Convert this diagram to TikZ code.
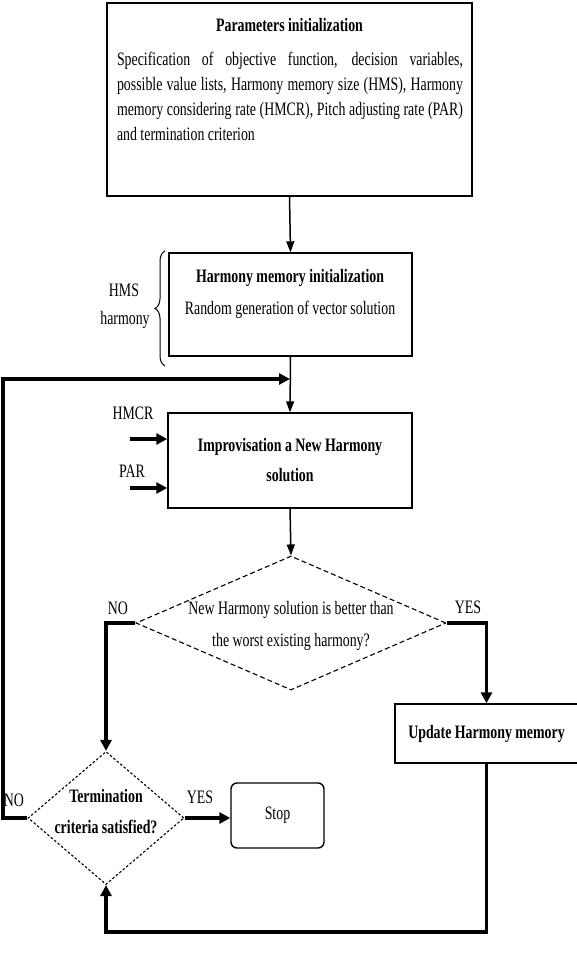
\documentclass[tikz,border=0pt]{standalone}
\usepackage{fontspec}
\setmainfont{Liberation Serif}[FakeStretch=0.73]
\usetikzlibrary{shapes.geometric,arrows.meta,decorations.pathreplacing}
\begin{document}
\begin{tikzpicture}[x=1pt,y=-1pt,
  every node/.style={font=\fontsize{19}{25}\selectfont, inner sep=0pt},
  box/.style={draw, line width=1.4pt},
  dia/.style={diamond, draw, line width=1.1pt, inner sep=0pt},
  conn/.style={line width=1.5pt, -{Triangle[length=11pt,width=8pt]}},
  heavy/.style={line width=3.5pt, line join=miter},
  heavyarrow/.style={heavy, -{Triangle[length=11pt,width=11pt]}}
]
\useasboundingbox (0,0) rectangle (576,968);

% Parameters box
\node[box, minimum width=365pt, minimum height=193pt] (params) at (289.5,99.5) {};
\node (ptitle) at (289.5,25) {\bfseries Parameters initialization};
\node[align=left] (ptext) at (290,96.5) {%
\makebox[346pt][s]{Specification of objective function, decision variables,}\\
\makebox[346pt][s]{possible value lists, Harmony memory size (HMS), Harmony}\\
\makebox[346pt][s]{memory considering rate (HMCR), Pitch adjusting rate (PAR)}\\
\makebox[346pt][l]{and termination criterion}};

% Harmony memory init
\node[box, minimum width=243pt, minimum height=103pt] (hm) at (290.5,304.5) {};
\node (hmtitle) at (290,278) {\bfseries Harmony memory initialization};
\node (hmsub) at (290,310) {Random generation of vector solution};
\draw[line width=1pt, decorate, decoration={brace, amplitude=10pt}] (165,366) -- (165,251);
\node (hmslabel) at (124,290) {HMS};
\node (harmlabel) at (125,320) {harmony};

% Improvisation
\node[box, minimum width=244pt, minimum height=95pt, align=center,
      font=\fontsize{19}{30}\selectfont\bfseries] (imp) at (290,460.5)
      {Improvisation a New Harmony\\solution};
\node (hmcr) at (133,413) {HMCR};
\node (par) at (132,471) {PAR};
\coordinate (hmcrs) at (130,439);
\coordinate (pars) at (130,488);

% Decision 1
\node[dia, minimum width=310pt, minimum height=134pt, dash pattern=on 5pt off 3pt] (d1) at (291,623) {};
\node[align=center, font=\fontsize{19}{32}\selectfont] (d1text) at (291,626)
  {New Harmony solution is better than\\the worst existing harmony?};
\node (no1) at (118,608) {NO};
\node (yes1) at (468,607) {YES};

% Update
\node[box, minimum width=183pt, minimum height=59pt, font=\fontsize{19}{25}\selectfont\bfseries] (upd) at (486.5,733.5) {Update Harmony memory};

% Termination
\node[dia, minimum width=156pt, minimum height=133pt, dash pattern=on 2.5pt off 2pt] (term) at (106,818) {};
\node[align=center, font=\fontsize{19}{31}\selectfont\bfseries] (termtext) at (106,812)
  {Termination\\criteria satisfied?};
\node (no2) at (14,800) {NO};
\node (yes2) at (200,797) {YES};

% Stop
\node[box, rounded corners=6pt, minimum width=93pt, minimum height=65pt] (stop) at (277.5,815.5) {Stop};

% helper coordinates
\coordinate (fb) at (290,379);
\coordinate (leftx) at (3,0);
\coordinate (loopy) at (0,932);

% connectors
\draw[conn] (params.south) -- (hm.north);
\draw[conn] (hm.south) -- (imp.north);
\draw[heavyarrow] (term.west) -- (term.west -| leftx) -- (fb -| leftx) -- (fb);
\draw[heavyarrow] (hmcrs) -- (hmcrs -| imp.west);
\draw[heavyarrow] (pars) -- (pars -| imp.west);
\draw[conn] (imp.south) -- (d1.north);
\draw[heavyarrow] (d1.west) -| (term.north);
\draw[heavyarrow] (d1.east) -| (upd.north);
\draw[heavyarrow] (upd.south) -- (upd.south |- loopy) -- (term.south |- loopy) -- (term.south);
\draw[heavyarrow] (term.east) -- (term.east -| stop.west);
\end{tikzpicture}
\end{document}
